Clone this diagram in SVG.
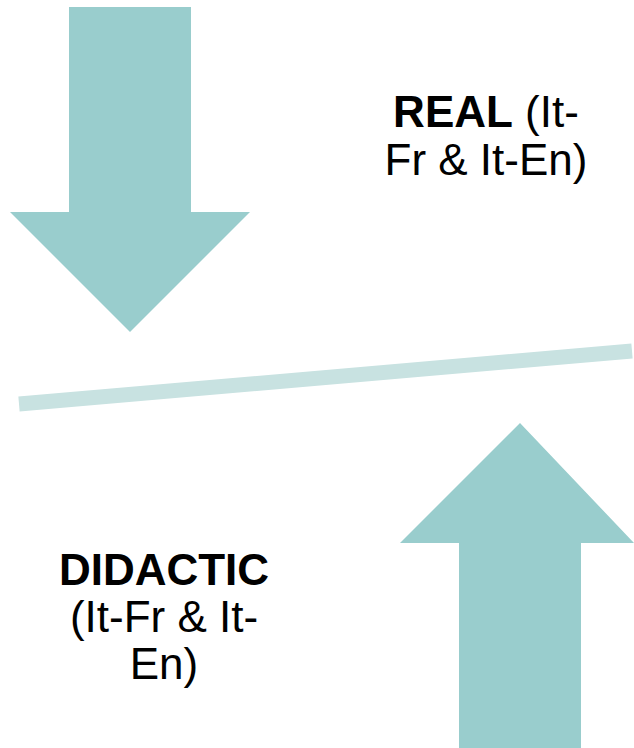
<svg xmlns="http://www.w3.org/2000/svg" width="634" height="748" viewBox="0 0 634 748">
<style>
.arrow{fill:#99cdcd}
.bar{stroke:#c8e2e1;stroke-width:15;fill:none}
.t{font-family:"Liberation Sans",Arial,sans-serif;font-size:44px;fill:#000;text-anchor:middle}
.b{font-weight:bold}
</style>
<rect width="634" height="748" fill="#fff"/>
<g id="down-arrow">
<polygon class="arrow" points="69,7 191,7 191,212 250,212 130,332 10,212 69,212"/>
</g>
<g id="up-arrow">
<polygon class="arrow" points="520,423 634,543 581,543 581,748 459,748 459,543 400,543"/>
</g>
<g id="connectors">
<line class="bar" x1="19" y1="404" x2="632" y2="351"/>
</g>
<g id="real-label">
<text class="t" x="486" y="127"><tspan class="b">REAL</tspan> (It-</text>
<text class="t" x="486" y="175">Fr &amp; It-En)</text>
</g>
<g id="didactic-label">
<text class="t b" x="164" y="585">DIDACTIC</text>
<text class="t" x="164" y="632">(It-Fr &amp; It-</text>
<text class="t" x="164" y="679">En)</text>
</g>
</svg>
